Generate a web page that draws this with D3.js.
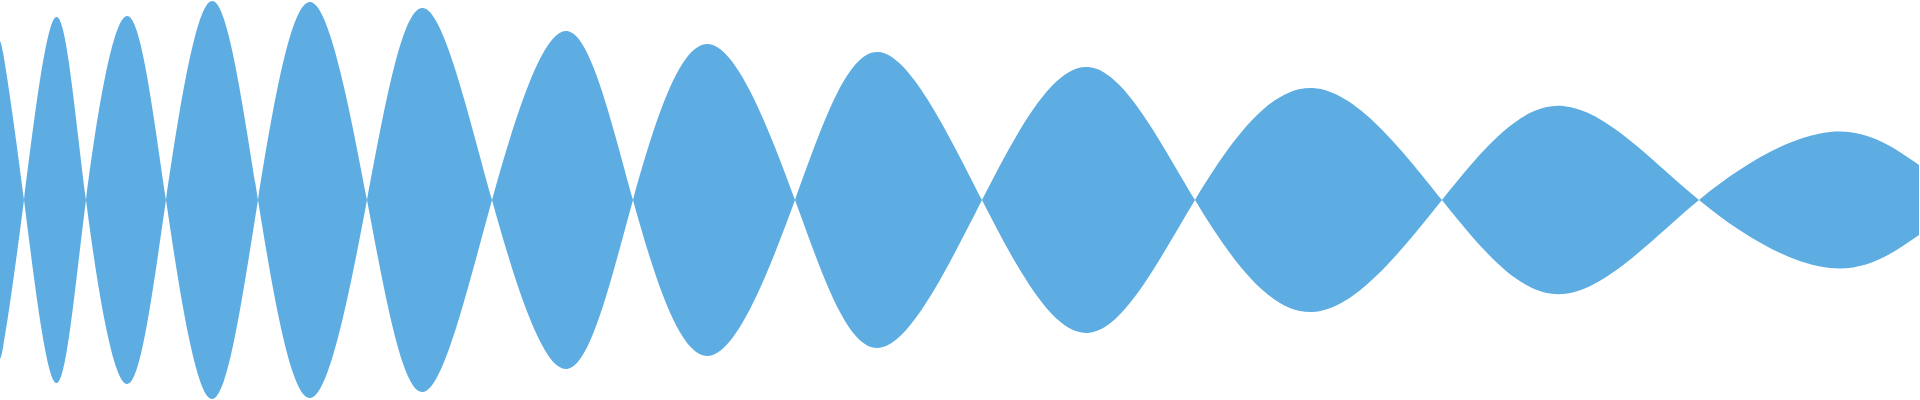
<!DOCTYPE html>
<html>
<head>
<meta charset="utf-8">
<script src="https://cdn.jsdelivr.net/npm/d3@7"></script>
<style>
  html, body { margin: 0; padding: 0; background: #ffffff; overflow: hidden; }
  svg { display: block; }
</style>
</head>
<body>
<svg id="chart" width="1920" height="400"></svg>
<script>
// Sample times (ms) of the waveform's zero crossings and peaks
const times = [0, 1.5, 12, 28, 43, 63.5, 83, 106, 129, 155, 183.5, 211.5, 246, 283.5, 316.5, 354, 397.5, 439, 491, 544, 597.5, 656.5, 721, 781.5, 849.5, 915, 959.5];
// Signed amplitude at each sample (fraction of full scale)
const amplitudes = [0.725, 0.737, 0, -0.915, 0, 0.92, 0, -0.995, 0, 0.99, 0, -0.96, 0, 0.845, 0, -0.78, 0, 0.74, 0, -0.665, 0, 0.56, 0, -0.47, 0, 0.34, 0.175];
const timeDomain = [0, 960];
const ampDomain = [-1, 1];

const width = 1920, height = 400;
const data = times.map((t, i) => ({ t, a: amplitudes[i] }));

const x = d3.scaleLinear().domain(timeDomain).range([0, width]);
const y = d3.scaleLinear().domain(ampDomain).range([height, 0]);

const area = d3.area()
  .x(d => x(d.t))
  .y0(d => y(-d.a))
  .y1(d => y(d.a))
  .curve(d3.curveNatural);

d3.select("#chart")
  .append("path")
  .datum(data)
  .attr("d", area)
  .attr("fill", "#5dade2");
</script>
</body>
</html>
